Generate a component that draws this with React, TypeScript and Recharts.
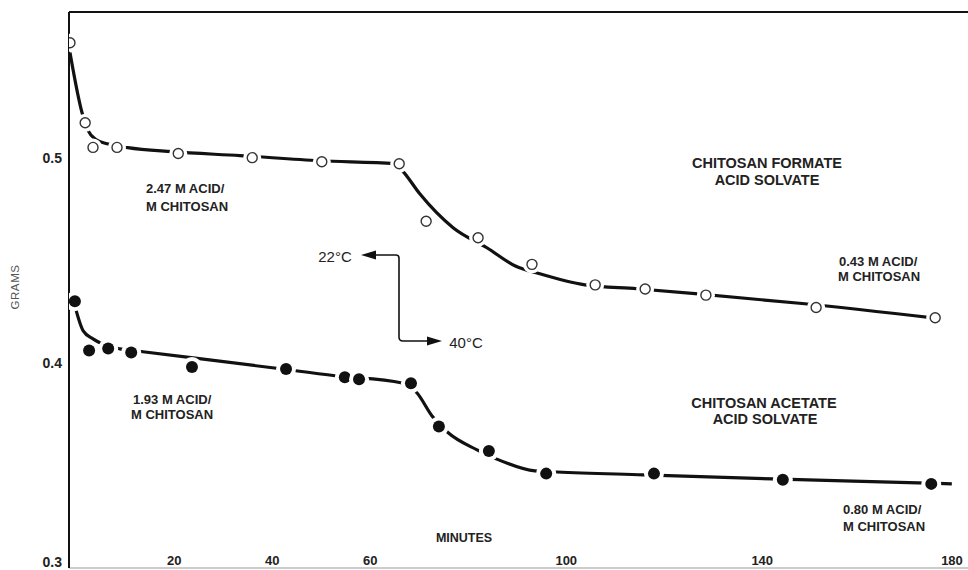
import React from 'react';
import { ComposedChart, Line, Scatter, XAxis, YAxis, ReferenceLine } from 'recharts';

// Measured points (minutes, grams)
const formateMinutes = [-1.3, 1.8, 3.4, 8.3, 20.8, 35.9, 50.1, 65.9, 71.4, 82.0, 93.0, 105.9, 116.1, 128.5, 151.0, 175.3];
const formateGrams = [0.556, 0.517, 0.505, 0.505, 0.502, 0.5, 0.498, 0.497, 0.469, 0.461, 0.448, 0.438, 0.436, 0.433, 0.427, 0.422];

const acetateMinutes = [-0.3, 2.6, 6.5, 11.2, 23.6, 42.8, 54.8, 57.7, 68.3, 74.0, 84.2, 95.9, 117.9, 144.2, 174.5];
const acetateGrams = [0.43, 0.406, 0.407, 0.405, 0.398, 0.397, 0.393, 0.392, 0.39, 0.369, 0.357, 0.346, 0.346, 0.343, 0.341];

// Hand-drawn fit curves
const formateCurveMinutes = [-1.3, 1.15, 2.4, 4.0, 6.3, 10.5, 19.5, 33.4, 49.7, 65.0, 66.7, 70.1, 76.9, 83.8, 89.5, 94.6, 103.8, 114.4, 126.3, 148.7, 175.3];
const formateCurveGrams = [0.5512, 0.522, 0.5132, 0.5088, 0.5068, 0.5049, 0.5029, 0.501, 0.4985, 0.4971, 0.4932, 0.4824, 0.4659, 0.4561, 0.4473, 0.4434, 0.438, 0.4361, 0.4337, 0.4288, 0.4218];

const acetateCurveMinutes = [-0.3, 1.4, 3.4, 4.8, 8.9, 13.6, 40.0, 52.8, 66.5, 69.5, 72.6, 75.9, 81.8, 85.7, 93.6, 98.1, 115.7, 142.0, 171.8, 178.7];
const acetateCurveGrams = [0.4278, 0.4156, 0.4117, 0.4098, 0.4068, 0.4054, 0.3976, 0.3937, 0.3902, 0.3854, 0.3741, 0.3659, 0.3576, 0.3532, 0.3473, 0.3468, 0.3454, 0.3434, 0.3415, 0.341];

const xTicks = [20, 40, 60, 100, 140, 180];
const yTicks = [0.3, 0.4, 0.5];
const xDomain = [-1.5, 182];
const yDomain = [0.3, 0.571];

const zip = (ts: number[], vs: number[]) => ts.map((t, i) => ({ t, v: vs[i] }));
const formatePts = zip(formateMinutes, formateGrams);
const acetatePts = zip(acetateMinutes, acetateGrams);
const formateCurve = zip(formateCurveMinutes, formateCurveGrams);
const acetateCurve = zip(acetateCurveMinutes, acetateCurveGrams);

const FONT = '"Liberation Sans", Arial, Helvetica, sans-serif';

const OpenDot = (props: any) => {
  const { cx, cy } = props;
  if (cx == null || cy == null) return null;
  return (
    <g>
      <circle cx={cx} cy={cy} r={9} fill="#fff" />
      <circle cx={cx} cy={cy} r={5} fill="#fff" stroke="#333" strokeWidth={1.4} />
    </g>
  );
};

const FilledDot = (props: any) => {
  const { cx, cy } = props;
  if (cx == null || cy == null) return null;
  return (
    <g>
      <circle cx={cx} cy={cy} r={10} fill="#fff" />
      <circle cx={cx} cy={cy} r={6} fill="#111" />
    </g>
  );
};

const XTick = (props: any) => {
  const { x, y, payload } = props;
  const tx = Math.min(x, 952);
  return (
    <text x={tx} y={y - 8} textAnchor="middle" dominantBaseline="central" fontFamily={FONT} fontSize={13} fontWeight="bold" fill="#222">
      {payload.value}
    </text>
  );
};

const YTick = (props: any) => {
  const { x, y, payload } = props;
  const ty = Math.min(y, 562);
  return (
    <text x={x} y={ty} textAnchor="end" dominantBaseline="central" fontFamily={FONT} fontSize={14} fontWeight="bold" fill="#222">
      {Number(payload.value).toFixed(1)}
    </text>
  );
};

const txt = { fontFamily: FONT, fill: '#222', fontWeight: 'bold' as const };

export default function App() {
  return (
    <div style={{ position: 'absolute', left: 0, top: 0, width: 968, height: 570, background: '#fff', overflow: 'hidden' }}>
      <ComposedChart width={968} height={570} margin={{ top: 12, right: 0, bottom: 0, left: 0 }}>
        <XAxis
          type="number"
          dataKey="t"
          domain={xDomain}
          allowDataOverflow
          ticks={xTicks}
          interval={0}
          height={2}
          tickSize={0}
          tickMargin={0}
          tick={<XTick />}
          axisLine={{ stroke: '#999', strokeWidth: 1 }}
          tickLine={false}
        />
        <YAxis
          type="number"
          dataKey="v"
          domain={yDomain}
          allowDataOverflow
          ticks={yTicks}
          interval={0}
          width={69}
          tickSize={0}
          tickMargin={7}
          tickLine={false}
          tick={<YTick />}
          axisLine={{ stroke: '#111', strokeWidth: 2 }}
        />
        <ReferenceLine y={yDomain[1]} stroke="#111" strokeWidth={2} ifOverflow="extendDomain" />
        <Line data={formateCurve} dataKey="v" type="monotone" stroke="#111" strokeWidth={3.2} dot={false} activeDot={false} isAnimationActive={false} />
        <Line data={acetateCurve} dataKey="v" type="monotone" stroke="#111" strokeWidth={3.2} dot={false} activeDot={false} isAnimationActive={false} />
        <Scatter data={formatePts} dataKey="v" shape={<OpenDot />} isAnimationActive={false} />
        <Scatter data={acetatePts} dataKey="v" shape={<FilledDot />} isAnimationActive={false} />
      </ComposedChart>
      <svg width={968} height={570} style={{ position: 'absolute', left: 0, top: 0, pointerEvents: 'none' }}>
        <text x={15} y={287} transform="rotate(-90 15 287)" textAnchor="middle" dominantBaseline="central" fontFamily={FONT} fontSize={11.5} fill="#555" letterSpacing={0.6}>GRAMS</text>
        <text x={464} y={538} textAnchor="middle" dominantBaseline="central" fontSize={12.5} {...txt}>MINUTES</text>

        <text x={146} y={188} dominantBaseline="central" fontSize={13} {...txt}>2.47 M ACID/</text>
        <text x={146} y={206} dominantBaseline="central" fontSize={13} {...txt}>M CHITOSAN</text>

        <text x={133} y={399} dominantBaseline="central" fontSize={13} {...txt}>1.93 M ACID/</text>
        <text x={131} y={414} dominantBaseline="central" fontSize={13} {...txt}>M CHITOSAN</text>

        <text x={767} y={163} textAnchor="middle" dominantBaseline="central" fontSize={14.5} {...txt}>CHITOSAN FORMATE</text>
        <text x={767} y={180} textAnchor="middle" dominantBaseline="central" fontSize={14.5} {...txt}>ACID SOLVATE</text>

        <text x={839} y={261} dominantBaseline="central" fontSize={13} {...txt}>0.43 M ACID/</text>
        <text x={838} y={276} dominantBaseline="central" fontSize={13} {...txt}>M CHITOSAN</text>

        <text x={764} y={403} textAnchor="middle" dominantBaseline="central" fontSize={14.5} {...txt}>CHITOSAN ACETATE</text>
        <text x={765} y={419} textAnchor="middle" dominantBaseline="central" fontSize={14.5} {...txt}>ACID SOLVATE</text>

        <text x={843} y={509} dominantBaseline="central" fontSize={13} {...txt}>0.80 M ACID/</text>
        <text x={843} y={526} dominantBaseline="central" fontSize={13} {...txt}>M CHITOSAN</text>

        <text x={335} y={256} textAnchor="middle" dominantBaseline="central" fontFamily={FONT} fontSize={15} fill="#222">22°C</text>
        <text x={466} y={342} textAnchor="middle" dominantBaseline="central" fontFamily={FONT} fontSize={15} fill="#222">40°C</text>

        <path d="M375 255 H396 Q399 255 399 258 V337 Q399 341 403 341 H428" fill="none" stroke="#111" strokeWidth={1.6} />
        <polygon points="361,255 376,250.5 376,259.5" fill="#111" />
        <polygon points="442,341 427,336.5 427,345.5" fill="#111" />
      </svg>
    </div>
  );
}
